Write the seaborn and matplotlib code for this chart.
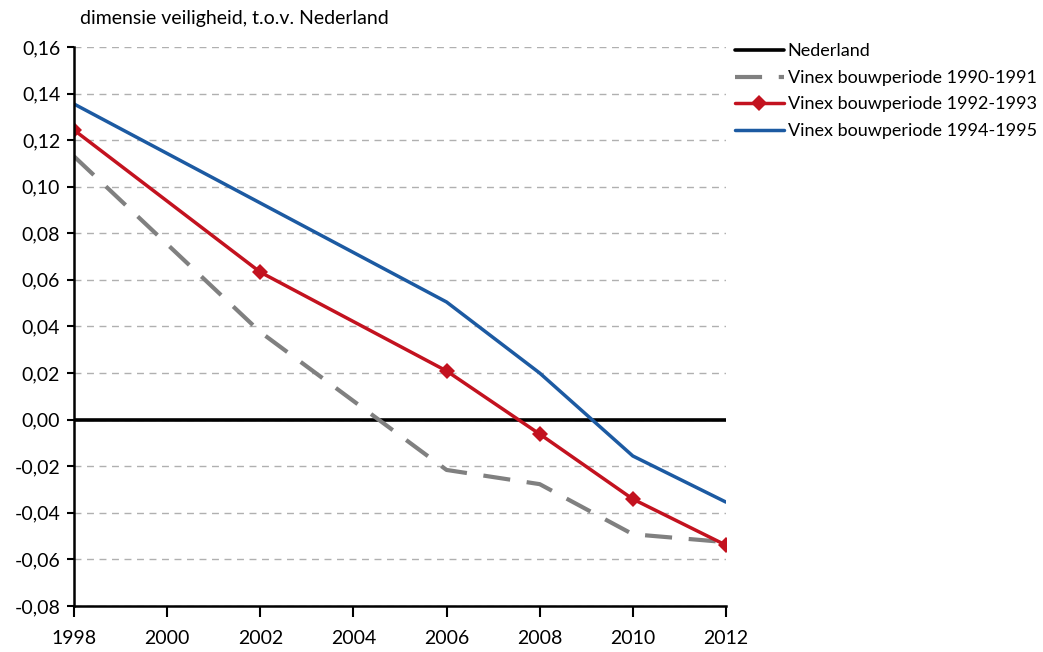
import matplotlib
matplotlib.use("Agg")
import matplotlib.pyplot as plt
import seaborn as sns
import pandas as pd

years = [1998, 2002, 2006, 2008, 2010, 2012]
nederland = [0, 0, 0, 0, 0, 0]
vinex_1990 = [0.113, 0.0376, -0.0216, -0.0277, -0.0492, -0.0526]
vinex_1992 = [0.1243, 0.0633, 0.0209, -0.0062, -0.0341, -0.0539]
vinex_1994 = [0.1355, 0.093, 0.0505, 0.020, -0.0156, -0.0354]
y_ticks = [-0.08, -0.06, -0.04, -0.02, 0.0, 0.02, 0.04, 0.06, 0.08, 0.10, 0.12, 0.14, 0.16]
x_ticks = list(range(1998, 2013, 2))

sns.set_style("ticks")
plt.rcParams["font.family"] = ["Lato", "DejaVu Sans"]
plt.rcParams["text.color"] = "black"
plt.rcParams["xtick.color"] = "black"
plt.rcParams["ytick.color"] = "black"

fig = plt.figure(figsize=(10.43, 6.52), dpi=100)
ax = fig.add_axes([0.071, 0.0706, 0.625, 0.8574])

ax.set_yticks(y_ticks)
for t in y_ticks:
    ax.axhline(t, color="#b0b0b0", lw=1, ls=(0, (5, 4)), zorder=0)

df = pd.DataFrame({"jaar": years, "ned": nederland, "v90": vinex_1990,
                   "v92": vinex_1992, "v94": vinex_1994})

sns.lineplot(data=df, x="jaar", y="ned", ax=ax, color="black", lw=2.6, label="Nederland")
sns.lineplot(data=df, x="jaar", y="v90", ax=ax, color="#808080", lw=3,
             dashes=False, label="Vinex bouwperiode 1990-1991").lines[-1].set_dashes([6.5, 4])
sns.lineplot(data=df, x="jaar", y="v92", ax=ax, color="#c3121f", lw=2.5, marker="D",
             markersize=8, markeredgewidth=0, label="Vinex bouwperiode 1992-1993")
sns.lineplot(data=df, x="jaar", y="v94", ax=ax, color="#1c5aa2", lw=2.5,
             label="Vinex bouwperiode 1994-1995")

ax.set_xlim(1998, 2012)
ax.set_ylim(-0.08, 0.16)
ax.set_xticks(x_ticks)
ax.set_yticklabels([f"{v:.2f}".replace(".", ",") for v in y_ticks])
ax.set_xlabel("")
ax.set_ylabel("")
for s in ["top", "right"]:
    ax.spines[s].set_visible(False)
for s in ["left", "bottom"]:
    ax.spines[s].set_linewidth(1.8)
    ax.spines[s].set_color("black")
ax.tick_params(axis="y", length=5, width=1.5, pad=5, labelsize=14)
ax.tick_params(axis="x", length=8, width=1.5, pad=9, labelsize=14)

fig.text(0.077, 0.972, "dimensie veiligheid, t.o.v. Nederland", fontsize=14, va="center")

ax.legend(loc="upper left", bbox_to_anchor=(1.005, 1.016), frameon=False, fontsize=13,
          handlelength=2.75, handletextpad=0.2, labelspacing=0.58, borderaxespad=0,
          borderpad=0.3)

fig.savefig("out.png", dpi=100)
